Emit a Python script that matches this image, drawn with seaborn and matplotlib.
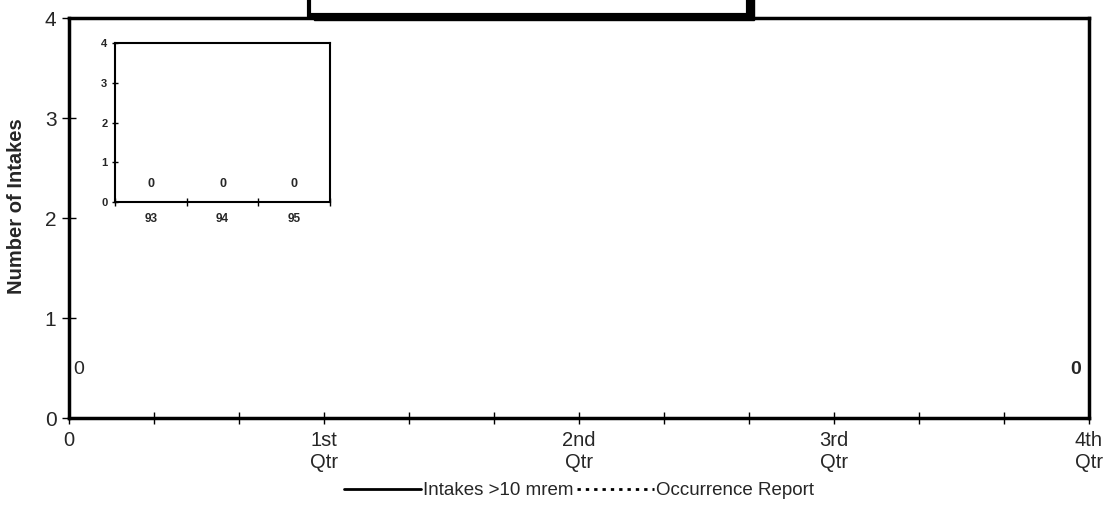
import matplotlib
matplotlib.use("Agg")
import matplotlib.pyplot as plt
from matplotlib.patches import Rectangle
import seaborn as sns
import pandas as pd
import numpy as np

# ---- data ----
quarter_pos = [0, 1, 2, 3, 4]
quarter_labels = ["0", "1st\nQtr", "2nd\nQtr", "3rd\nQtr", "4th\nQtr"]
intake_x = [0, 4]
intake_vals = [0, 0]
occurrence_x = [0, 4]
occurrence_vals = [0, 0]
series_names = ["Intakes >10 mrem", "Occurrence Report"]

inset_years = ["93", "94", "95"]
inset_vals = [0, 0, 0]

sns.set_theme(style="white")
plt.rcParams["font.family"] = ["Liberation Sans", "DejaVu Sans"]

fig = plt.figure(figsize=(11.07, 5.2), dpi=100)
ax = fig.add_axes([0.0623, 0.196, 0.9214, 0.769])

df = pd.DataFrame({
    "x": intake_x + occurrence_x,
    "y": intake_vals + occurrence_vals,
    "series": [series_names[0]] * len(intake_x) + [series_names[1]] * len(occurrence_x),
})
sns.lineplot(data=df, x="x", y="y", hue="series", style="series",
             palette=["black", "black"], dashes=[(None, None), (1.2, 1.8)],
             linewidth=2, ax=ax, legend=True)

# data labels
ax.annotate(str(intake_vals[0]), (intake_x[0], intake_vals[0]), xytext=(3, 29),
            textcoords="offset points", fontsize=14, ha="left", va="bottom")
ax.annotate(str(intake_vals[-1]), (intake_x[-1], intake_vals[-1]), xytext=(-6, 29),
            textcoords="offset points", fontsize=14, ha="right", va="bottom",
            fontweight="bold")

ax.set_xlim(0, 4)
ax.set_ylim(0, 4)
ax.set_xticks(quarter_pos)
ax.set_xticklabels(quarter_labels, fontsize=14.5, linespacing=1.25)
ax.set_xticks(np.arange(0, 4.01, 1 / 3), minor=True)
ax.set_yticks([0, 1, 2, 3, 4])
ax.set_yticklabels(["0", "1", "2", "3", "4"], fontsize=15)
ax.tick_params(axis="both", which="both", direction="inout", color="black",
               bottom=True, left=True)
ax.tick_params(axis="x", which="major", length=8, width=1, pad=5)
ax.tick_params(axis="x", which="minor", length=8, width=1)
ax.tick_params(axis="y", which="major", length=10, width=1, pad=4)
ax.set_xlabel("")
ax.set_ylabel("Number of Intakes", fontsize=14.5, fontweight="bold")
ax.yaxis.set_label_coords(-0.042, 0.53)
for s in ax.spines.values():
    s.set_color("black")
    s.set_linewidth(2.5)

handles, labels = ax.get_legend_handles_labels()
leg = ax.legend(handles, labels, loc="center", bbox_to_anchor=(0.5, -0.182), ncol=2,
                frameon=False, fontsize=13.5, handlelength=4.1, handletextpad=0.1,
                columnspacing=0.2)

# ---- inset ----
ins = fig.add_axes([0.1039, 0.6115, 0.1942, 0.3055])
idf = pd.DataFrame({"year": inset_years, "val": inset_vals})
sns.barplot(data=idf, x="year", y="val", color="black", ax=ins)
for i, v in enumerate(inset_vals):
    ins.text(i, v + 0.3, str(v), ha="center", va="bottom", fontsize=9,
             fontweight="bold")
ins.set_xlim(-0.5, len(inset_years) - 0.5)
ins.set_ylim(0, 4)
ins.set_xticks(np.arange(-0.5, len(inset_years), 1.0))
ins.set_xticklabels([""] * (len(inset_years) + 1))
ins.set_xticks(np.arange(len(inset_years)), minor=True)
ins.set_xticklabels(inset_years, minor=True, fontsize=8.5, fontweight="bold")
ins.tick_params(axis="x", which="minor", length=0, pad=8)
ins.tick_params(axis="x", which="major", direction="inout", length=6, width=1,
                color="black", bottom=True)
ins.set_yticks([0, 1, 2, 3, 4])
ins.set_yticklabels(["0", "1", "2", "3", "4"], fontsize=8, fontweight="bold")
ins.tick_params(axis="y", direction="inout", length=5, width=1, color="black",
                left=True, pad=3)
ins.set_xlabel("")
ins.set_ylabel("")
for s in ins.spines.values():
    s.set_color("black")
    s.set_linewidth(1.5)

# ---- cut-off title box at top ----
fig.patches.append(Rectangle((0.284, 0.962), 0.397, 0.06, transform=fig.transFigure,
                             facecolor="black", edgecolor="black", zorder=5))
fig.patches.append(Rectangle((0.279, 0.972), 0.397, 0.06, transform=fig.transFigure,
                             facecolor="white", edgecolor="black", linewidth=3,
                             zorder=6))

fig.savefig("out.png", dpi=100)
